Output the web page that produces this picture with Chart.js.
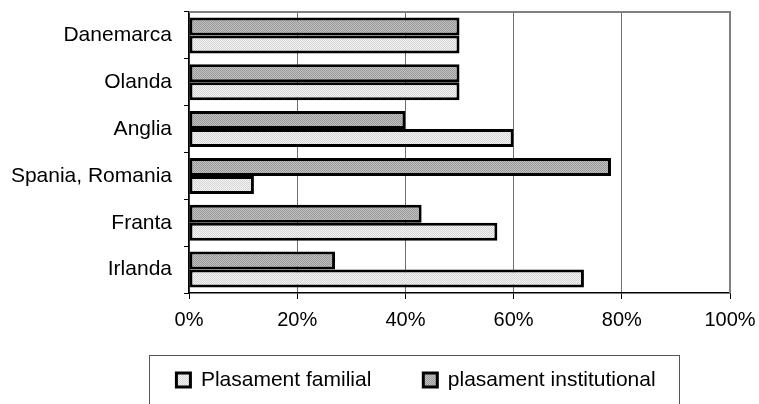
<!DOCTYPE html>
<html>
<head>
<meta charset="utf-8">
<script src="https://cdn.jsdelivr.net/npm/chart.js@4.4.0/dist/chart.umd.min.js"></script>
<style>
  html, body { margin: 0; padding: 0; background: #fff; }
  #wrap { width: 759px; height: 404px; position: relative; }
</style>
</head>
<body>
<div id="wrap"><canvas id="c" width="759" height="404"></canvas></div>
<script>
const categories = ['Danemarca', 'Olanda', 'Anglia', 'Spania, Romania', 'Franta', 'Irlanda'];
const institutional = [50, 50, 40, 78, 43, 27];
const familial = [50, 50, 60, 12, 57, 73];
const xTicks = [0, 20, 40, 60, 80, 100];
const seriesNames = ['plasament institutional', 'Plasament familial'];

function makePattern(c1, c2) {
  const p = document.createElement('canvas');
  p.width = 2; p.height = 2;
  const g = p.getContext('2d');
  g.fillStyle = c1; g.fillRect(0, 0, 2, 2);
  g.fillStyle = c2; g.fillRect(0, 0, 1, 1); g.fillRect(1, 1, 1, 1);
  return g.createPattern(p, 'repeat');
}
const instFill = makePattern('#c2c2c2', '#989898');
const famFill = makePattern('#f4f4f4', '#d4d4d4');

const FONT = "'Liberation Sans', Arial, sans-serif";

const frame = {
  id: 'frame',
  afterLayout(chart) {
    // place the legend block: centred at x = 416, item row centred at y = 382
    const lg = chart.legend;
    if (!lg) return;
    const pad = lg.options.labels.padding;
    const itemH = Math.max(14, 21 * 1.2);
    const shift = 416 - (lg.left + lg.right) / 2;
    lg.left += shift; lg.right += shift;
    lg.top = 382 - pad - itemH / 2;
    lg.bottom = chart.height;
    lg.height = lg.bottom - lg.top;
  },
  afterDatasetsDraw(chart) {
    const { ctx, chartArea: a } = chart;
    ctx.save();
    ctx.strokeStyle = '#808080';
    ctx.lineWidth = 2;
    ctx.beginPath();
    ctx.moveTo(a.left, a.top);
    ctx.lineTo(a.right, a.top);
    ctx.lineTo(a.right, a.bottom);
    ctx.stroke();
    ctx.restore();
  },
  afterDraw(chart) {
    const lg = chart.legend;
    if (!lg || !lg.legendHitBoxes || !lg.legendHitBoxes.length) return;
    const hb = lg.legendHitBoxes;
    const first = hb[0], last = hb[hb.length - 1];
    const { ctx } = chart;
    ctx.save();
    ctx.strokeStyle = '#555';
    ctx.lineWidth = 1;
    const l = Math.round(first.left - 27) + 0.5;
    const r = Math.round(last.left + last.width + 23) + 0.5;
    const t = Math.round(first.top - 14) + 0.5;
    ctx.strokeRect(l, t, r - l, 80);
    ctx.restore();
  }
};

new Chart(document.getElementById('c'), {
  type: 'bar',
  data: {
    labels: categories,
    datasets: [
      { label: seriesNames[0], data: institutional, backgroundColor: instFill, borderColor: '#000', borderWidth: 3, borderSkipped: false },
      { label: seriesNames[1], data: familial, backgroundColor: famFill, borderColor: '#000', borderWidth: 3, borderSkipped: false }
    ]
  },
  options: {
    indexAxis: 'y',
    responsive: false,
    animation: false,
    devicePixelRatio: 1,
    datasets: { bar: { categoryPercentage: 0.77, barPercentage: 1.0 } },
    layout: { padding: { top: 12, left: 0, right: 29, bottom: 0 } },
    scales: {
      x: {
        min: 0, max: 100,
        afterBuildTicks(scale) { scale.ticks = xTicks.map(v => ({ value: v })); },
        afterFit(scale) { scale.height = 51; scale.paddingLeft = 0; scale.paddingRight = 0; },
        ticks: {
          callback: v => v + '%',
          font: { family: FONT, size: 20 },
          color: '#000',
          padding: 9,
          maxRotation: 0
        },
        grid: { color: '#6e6e6e', lineWidth: 1, tickLength: 6, tickColor: '#000', tickWidth: 1 },
        border: { color: '#000', width: 1.5 }
      },
      y: {
        afterFit(scale) { scale.width = 189; scale.paddingTop = 0; scale.paddingBottom = 0; },
        ticks: {
          font: { family: FONT, size: 21 },
          color: '#000',
          padding: 12
        },
        grid: { drawOnChartArea: false, tickLength: 5, color: '#000', offset: true },
        border: { color: '#000', width: 1.5 }
      }
    },
    plugins: {
      legend: {
        position: 'bottom',
        reverse: true,
        maxHeight: 60,
        labels: {
          font: { family: FONT, size: 21 },
          color: '#000',
          boxWidth: 14,
          boxHeight: 14,
          padding: 52
        }
      },
      tooltip: { enabled: false }
    }
  },
  plugins: [frame]
});
</script>
</body>
</html>
